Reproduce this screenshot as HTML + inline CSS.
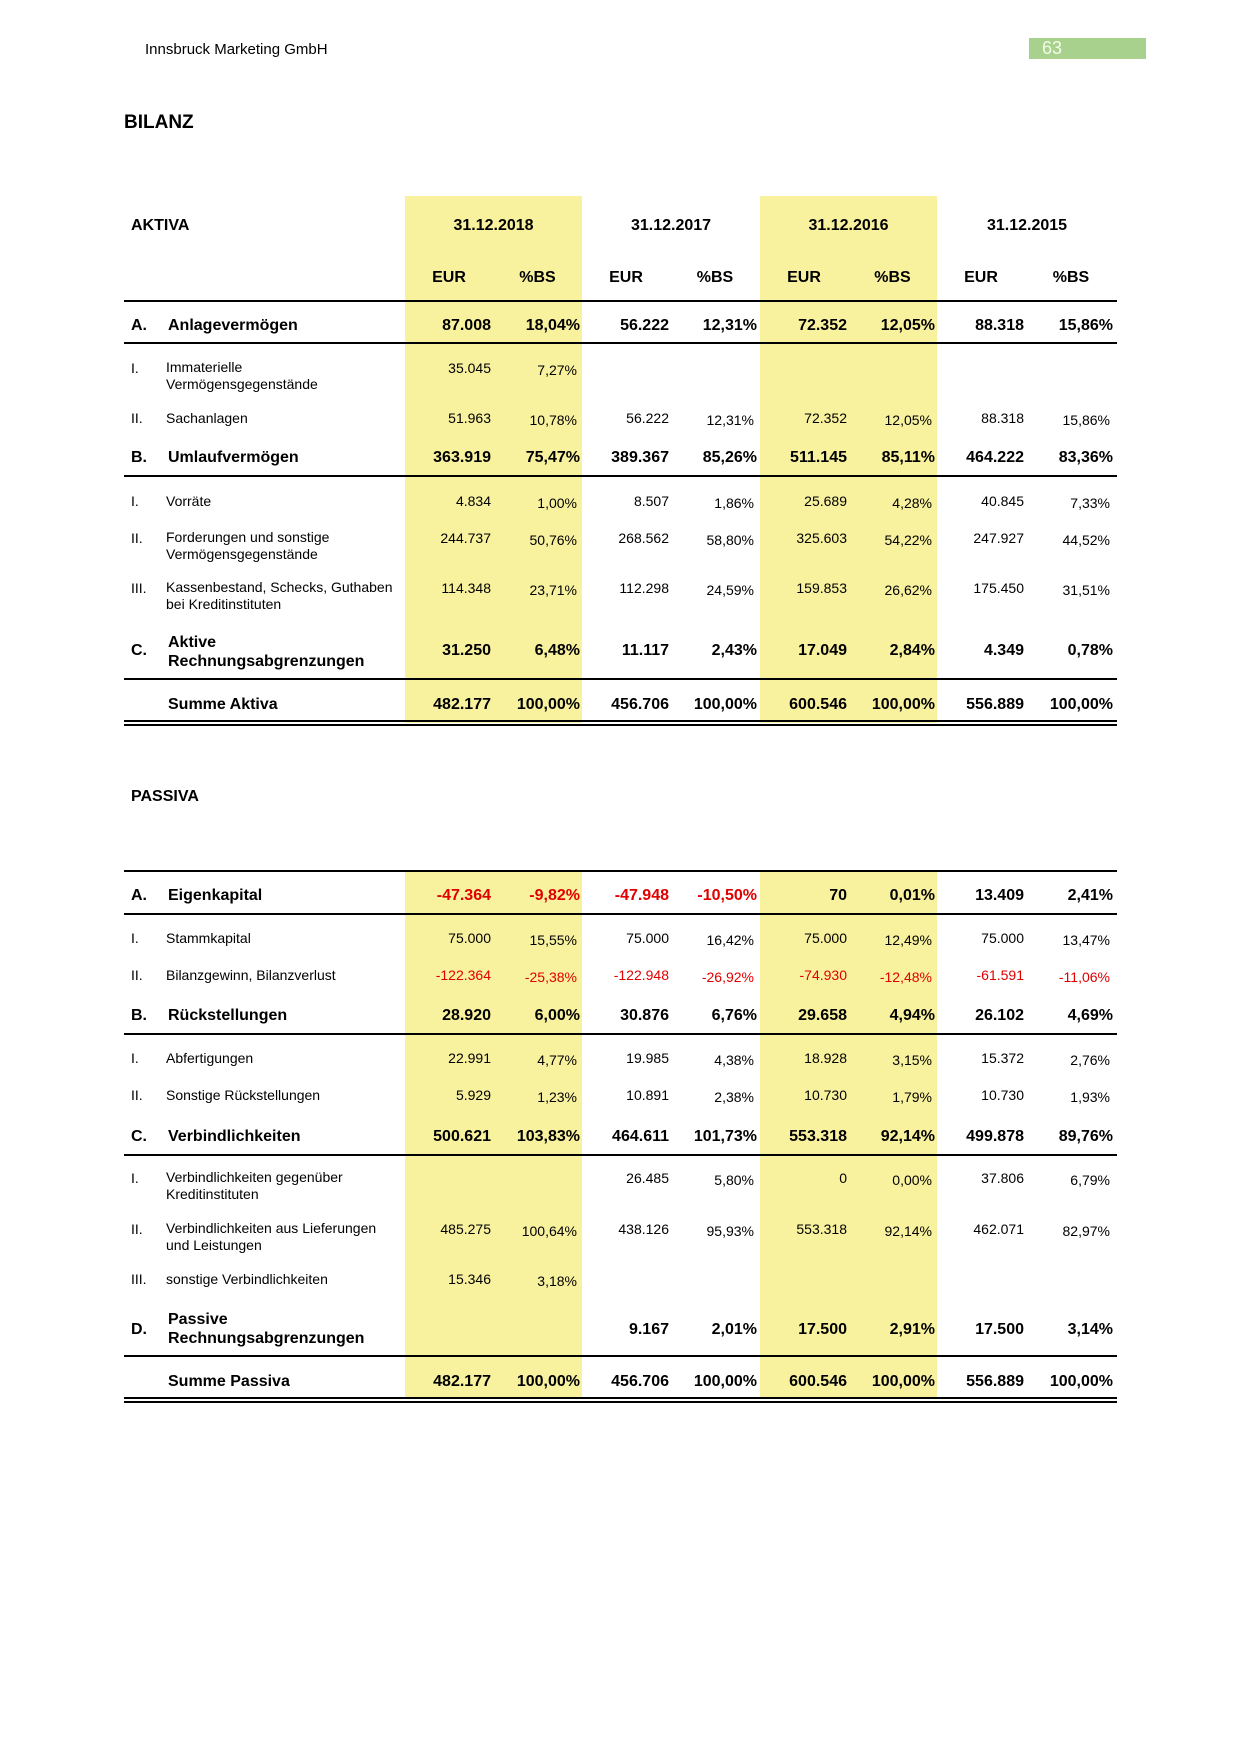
<!DOCTYPE html><html><head><meta charset="utf-8"><style>
body{margin:0;background:#fff}
#pg{position:relative;width:1240px;height:1754px;overflow:hidden;font-family:"Liberation Sans",Arial,sans-serif;color:#000}
.a{position:absolute;white-space:nowrap}
.r{position:absolute;left:0;width:1240px;height:18px;line-height:18px;font-size:14px}
.r.b{font-weight:bold;font-size:16px}
.r span{position:absolute;white-space:nowrap}
.e1,.e2,.e3,.e4,.p1,.p2,.p3,.p4{width:100px;text-align:right}
.e1{left:391px}.e2{left:569px}.e3{left:747px}.e4{left:924px}
.p1{left:480px}.p2{left:657px}.p3{left:835px}.p4{left:1013px}
.r:not(.b) .p1,.r:not(.b) .p2,.r:not(.b) .p3,.r:not(.b) .p4{margin-left:-3px;top:2px}
.k{left:131px}.l{left:166px}.r.b .l{left:168px}
.red{color:#e00000}
.y{position:absolute;background:#f8f29f}
.ln{position:absolute;left:124px;width:993px;background:#000}
.two{line-height:17px}
</style></head><body><div id="pg">
<div class="a" style="left:145px;top:41px;font-size:15px">Innsbruck Marketing GmbH</div>
<div class="a" style="left:1029px;top:38px;width:117px;height:21px;background:#a9d18e"></div>
<div class="a" style="left:1042px;top:38px;font-size:18px;line-height:21px;color:#f4fbe8">63</div>
<div class="a" style="left:124px;top:112px;font-size:19px;font-weight:bold">BILANZ</div>

<div class="y" style="left:405px;top:196px;width:177px;height:527px"></div>
<div class="y" style="left:760px;top:196px;width:177px;height:527px"></div>
<div class="y" style="left:405px;top:871px;width:177px;height:527px"></div>
<div class="y" style="left:760px;top:871px;width:177px;height:527px"></div>

<div class="r b" style="top:217px"><span style="left:131px">AKTIVA</span>
<span style="left:405px;width:177px;text-align:center">31.12.2018</span><span style="left:582px;width:178px;text-align:center">31.12.2017</span><span style="left:760px;width:177px;text-align:center">31.12.2016</span><span style="left:937px;width:180px;text-align:center">31.12.2015</span></div>
<div class="r b" style="top:269px">
<span style="left:405px;width:88px;text-align:center">EUR</span><span style="left:493px;width:89px;text-align:center">%BS</span>
<span style="left:582px;width:88px;text-align:center">EUR</span><span style="left:670px;width:90px;text-align:center">%BS</span>
<span style="left:760px;width:88px;text-align:center">EUR</span><span style="left:848px;width:89px;text-align:center">%BS</span>
<span style="left:937px;width:88px;text-align:center">EUR</span><span style="left:1025px;width:92px;text-align:center">%BS</span></div>
<div class="ln" style="top:300px;height:2px"></div>

<div class="r b" style="top:317px"><span class="k">A.</span><span class="l">Anlagevermögen</span><span class="e1">87.008</span><span class="p1">18,04%</span><span class="e2">56.222</span><span class="p2">12,31%</span><span class="e3">72.352</span><span class="p3">12,05%</span><span class="e4">88.318</span><span class="p4">15,86%</span></div>
<div class="ln" style="top:342px;height:1.5px"></div>
<div class="r" style="top:359px"><span class="k">I.</span><span class="l two">Immaterielle<br>Vermögensgegenstände</span><span class="e1">35.045</span><span class="p1">7,27%</span></div>
<div class="r" style="top:409px"><span class="k">II.</span><span class="l">Sachanlagen</span><span class="e1">51.963</span><span class="p1">10,78%</span><span class="e2">56.222</span><span class="p2">12,31%</span><span class="e3">72.352</span><span class="p3">12,05%</span><span class="e4">88.318</span><span class="p4">15,86%</span></div>
<div class="r b" style="top:449px"><span class="k">B.</span><span class="l">Umlaufvermögen</span><span class="e1">363.919</span><span class="p1">75,47%</span><span class="e2">389.367</span><span class="p2">85,26%</span><span class="e3">511.145</span><span class="p3">85,11%</span><span class="e4">464.222</span><span class="p4">83,36%</span></div>
<div class="ln" style="top:475px;height:2px"></div>
<div class="r" style="top:492px"><span class="k">I.</span><span class="l">Vorräte</span><span class="e1">4.834</span><span class="p1">1,00%</span><span class="e2">8.507</span><span class="p2">1,86%</span><span class="e3">25.689</span><span class="p3">4,28%</span><span class="e4">40.845</span><span class="p4">7,33%</span></div>
<div class="r" style="top:529px"><span class="k">II.</span><span class="l two">Forderungen und sonstige<br>Vermögensgegenstände</span><span class="e1">244.737</span><span class="p1">50,76%</span><span class="e2">268.562</span><span class="p2">58,80%</span><span class="e3">325.603</span><span class="p3">54,22%</span><span class="e4">247.927</span><span class="p4">44,52%</span></div>
<div class="r" style="top:579px"><span class="k">III.</span><span class="l two">Kassenbestand, Schecks, Guthaben<br>bei Kreditinstituten</span><span class="e1">114.348</span><span class="p1">23,71%</span><span class="e2">112.298</span><span class="p2">24,59%</span><span class="e3">159.853</span><span class="p3">26,62%</span><span class="e4">175.450</span><span class="p4">31,51%</span></div>
<div class="r b" style="top:642px"><span class="k">C.</span><span class="l" style="top:-9px;line-height:19px">Aktive<br>Rechnungsabgrenzungen</span><span class="e1">31.250</span><span class="p1">6,48%</span><span class="e2">11.117</span><span class="p2">2,43%</span><span class="e3">17.049</span><span class="p3">2,84%</span><span class="e4">4.349</span><span class="p4">0,78%</span></div>
<div class="ln" style="top:678px;height:1.5px"></div>
<div class="r b" style="top:696px"><span class="l">Summe Aktiva</span><span class="e1">482.177</span><span class="p1">100,00%</span><span class="e2">456.706</span><span class="p2">100,00%</span><span class="e3">600.546</span><span class="p3">100,00%</span><span class="e4">556.889</span><span class="p4">100,00%</span></div>
<div class="ln" style="top:720px;height:1.5px"></div>
<div class="ln" style="top:724px;height:1.5px"></div>

<div class="a" style="left:131px;top:788px;font-size:16px;font-weight:bold">PASSIVA</div>
<div class="ln" style="top:870px;height:1.5px"></div>
<div class="r b" style="top:887px"><span class="k">A.</span><span class="l">Eigenkapital</span><span class="e1 red">-47.364</span><span class="p1 red">-9,82%</span><span class="e2 red">-47.948</span><span class="p2 red">-10,50%</span><span class="e3">70</span><span class="p3">0,01%</span><span class="e4">13.409</span><span class="p4">2,41%</span></div>
<div class="ln" style="top:913px;height:2px"></div>
<div class="r" style="top:929px"><span class="k">I.</span><span class="l">Stammkapital</span><span class="e1">75.000</span><span class="p1">15,55%</span><span class="e2">75.000</span><span class="p2">16,42%</span><span class="e3">75.000</span><span class="p3">12,49%</span><span class="e4">75.000</span><span class="p4">13,47%</span></div>
<div class="r red" style="top:966px"><span class="k" style="color:#000">II.</span><span class="l" style="color:#000">Bilanzgewinn, Bilanzverlust</span><span class="e1">-122.364</span><span class="p1">-25,38%</span><span class="e2">-122.948</span><span class="p2">-26,92%</span><span class="e3">-74.930</span><span class="p3">-12,48%</span><span class="e4">-61.591</span><span class="p4">-11,06%</span></div>
<div class="r b" style="top:1007px"><span class="k">B.</span><span class="l">Rückstellungen</span><span class="e1">28.920</span><span class="p1">6,00%</span><span class="e2">30.876</span><span class="p2">6,76%</span><span class="e3">29.658</span><span class="p3">4,94%</span><span class="e4">26.102</span><span class="p4">4,69%</span></div>
<div class="ln" style="top:1033px;height:1.5px"></div>
<div class="r" style="top:1049px"><span class="k">I.</span><span class="l">Abfertigungen</span><span class="e1">22.991</span><span class="p1">4,77%</span><span class="e2">19.985</span><span class="p2">4,38%</span><span class="e3">18.928</span><span class="p3">3,15%</span><span class="e4">15.372</span><span class="p4">2,76%</span></div>
<div class="r" style="top:1086px"><span class="k">II.</span><span class="l">Sonstige Rückstellungen</span><span class="e1">5.929</span><span class="p1">1,23%</span><span class="e2">10.891</span><span class="p2">2,38%</span><span class="e3">10.730</span><span class="p3">1,79%</span><span class="e4">10.730</span><span class="p4">1,93%</span></div>
<div class="r b" style="top:1128px"><span class="k">C.</span><span class="l">Verbindlichkeiten</span><span class="e1">500.621</span><span class="p1">103,83%</span><span class="e2">464.611</span><span class="p2">101,73%</span><span class="e3">553.318</span><span class="p3">92,14%</span><span class="e4">499.878</span><span class="p4">89,76%</span></div>
<div class="ln" style="top:1154px;height:1.5px"></div>
<div class="r" style="top:1169px"><span class="k">I.</span><span class="l two">Verbindlichkeiten gegenüber<br>Kreditinstituten</span><span class="e2">26.485</span><span class="p2">5,80%</span><span class="e3">0</span><span class="p3">0,00%</span><span class="e4">37.806</span><span class="p4">6,79%</span></div>
<div class="r" style="top:1220px"><span class="k">II.</span><span class="l two">Verbindlichkeiten aus Lieferungen<br>und Leistungen</span><span class="e1">485.275</span><span class="p1">100,64%</span><span class="e2">438.126</span><span class="p2">95,93%</span><span class="e3">553.318</span><span class="p3">92,14%</span><span class="e4">462.071</span><span class="p4">82,97%</span></div>
<div class="r" style="top:1270px"><span class="k">III.</span><span class="l">sonstige Verbindlichkeiten</span><span class="e1">15.346</span><span class="p1">3,18%</span></div>
<div class="r b" style="top:1321px"><span class="k">D.</span><span class="l" style="top:-11px;line-height:19px">Passive<br>Rechnungsabgrenzungen</span><span class="e2">9.167</span><span class="p2">2,01%</span><span class="e3">17.500</span><span class="p3">2,91%</span><span class="e4">17.500</span><span class="p4">3,14%</span></div>
<div class="ln" style="top:1355px;height:1.5px"></div>
<div class="r b" style="top:1373px"><span class="l">Summe Passiva</span><span class="e1">482.177</span><span class="p1">100,00%</span><span class="e2">456.706</span><span class="p2">100,00%</span><span class="e3">600.546</span><span class="p3">100,00%</span><span class="e4">556.889</span><span class="p4">100,00%</span></div>
<div class="ln" style="top:1397px;height:1.5px"></div>
<div class="ln" style="top:1401px;height:1.5px"></div>
</div></body></html>
